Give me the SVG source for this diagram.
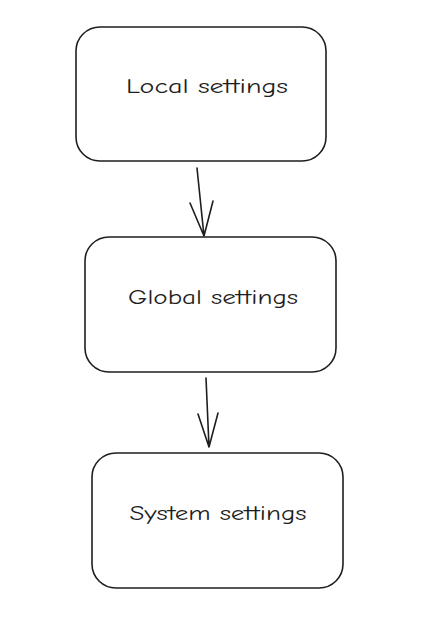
<svg xmlns="http://www.w3.org/2000/svg" width="423" height="625" viewBox="0 0 423 625">
<style>
.box{fill:#fff;stroke:#1e1e1e;stroke-width:1.6;}
.lbl{font-family:"Comic Neue","Liberation Sans",sans-serif;font-size:20px;fill:#1e1e1e;text-anchor:middle;dominant-baseline:central;}
.conn{fill:none;stroke:#1e1e1e;stroke-width:1.6;stroke-linecap:round;stroke-linejoin:round;}
</style>
<rect width="423" height="625" fill="#fff"/>
<g id="local">
<rect class="box" x="76" y="27" width="250" height="134" rx="24"/>
<text class="lbl" x="207" y="86" textLength="162" lengthAdjust="spacingAndGlyphs">Local settings</text>
</g>
<g id="global">
<rect class="box" x="85" y="237" width="251" height="135" rx="24"/>
<text class="lbl" x="213" y="297" textLength="170" lengthAdjust="spacingAndGlyphs">Global settings</text>
</g>
<g id="system">
<rect class="box" x="92" y="453" width="251" height="135" rx="24"/>
<text class="lbl" x="218" y="513" textLength="177" lengthAdjust="spacingAndGlyphs">System settings</text>
</g>
<g id="connectors">
<path class="conn" d="M197 168 L204 236 M190 203 L204 236 L213 201"/>
<path class="conn" d="M206 378 L209 447 M198 414 L209 447 L218 413"/>
</g>
</svg>
